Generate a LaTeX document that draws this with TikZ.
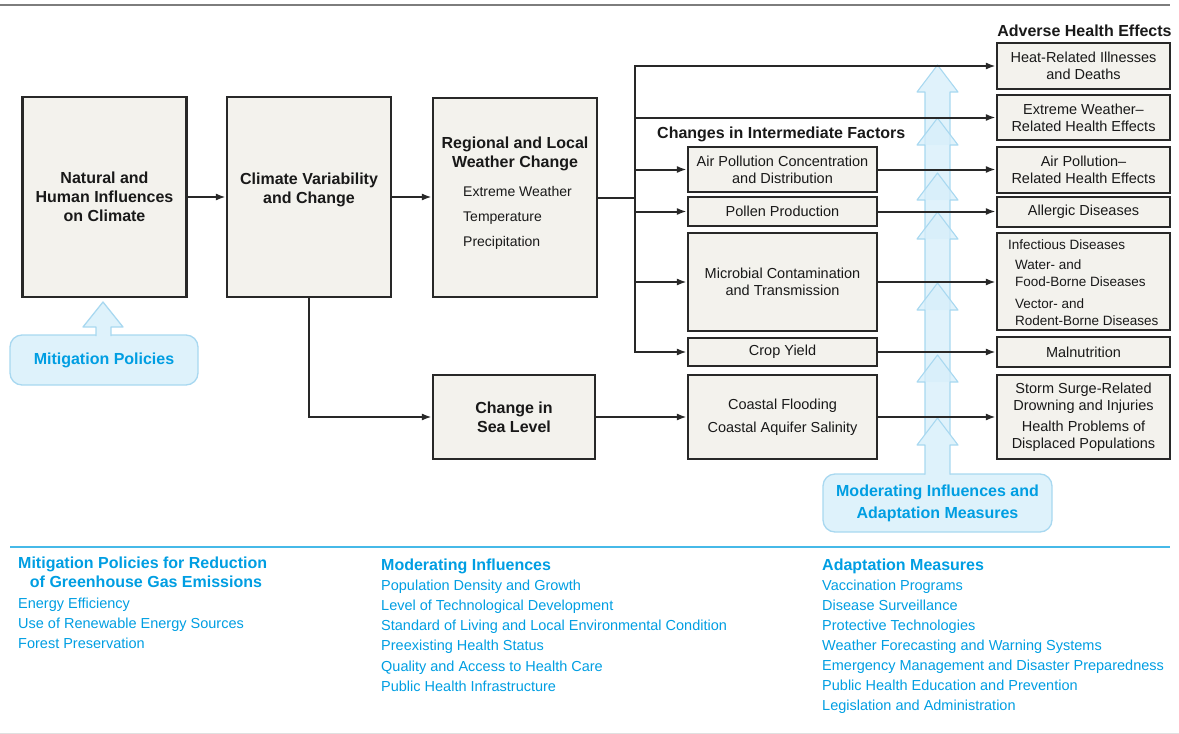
\documentclass[tikz,border=0pt]{standalone}
\usepackage{fontspec}
\setmainfont{Liberation Sans}
\usetikzlibrary{arrows.meta}
\definecolor{boxfill}{RGB}{243,242,237}
\definecolor{boxline}{RGB}{40,40,40}
\definecolor{boxtext}{RGB}{25,25,25}
\definecolor{bluetxt}{RGB}{0,158,226}
\definecolor{blueline}{RGB}{70,185,232}
\definecolor{bubfill}{RGB}{222,242,251}
\definecolor{bubline}{RGB}{168,216,240}
\definecolor{arrfill}{RGB}{214,238,250}
\definecolor{topline}{RGB}{125,125,125}
\begin{document}
\begin{tikzpicture}[x=1pt,y=-1pt,
  box/.style={draw=boxline,line width=2.2pt,fill=boxfill,inner sep=0pt,align=center,text=boxtext,font=\fontsize{14.5}{17}\selectfont},
  bbox/.style={box,font=\bfseries\fontsize{16}{19}\selectfont},
  plain/.style={inner sep=0pt,text=boxtext,font=\fontsize{14.5}{17}\selectfont},
  btitle/.style={inner sep=0pt,text=boxtext,align=center,font=\bfseries\fontsize{16}{19}\selectfont},
  conn/.style={draw=boxline,line width=2pt},
  arr/.style={conn,-{Latex[length=10pt,width=7pt]}},
  bubble/.style={draw=bubline,line width=1.3pt,fill=bubfill,rounded corners=12pt,text=bluetxt,align=center,font=\bfseries\fontsize{16}{22}\selectfont},
  bhead/.style={inner sep=0pt,text=bluetxt,font=\bfseries\fontsize{16}{19}\selectfont},
  bitem/.style={inner sep=0pt,text=bluetxt,font=\fontsize{14.5}{20}\selectfont}
]
\useasboundingbox (0,0) rectangle (1179,734);

% rules
\draw[topline,line width=2.5pt] (0,5) -- (1170,5);
\draw[blueline,line width=2pt] (10,547) -- (1170,547);
\draw[black!12,line width=1pt] (0,733) -- (1179,733);

% main boxes
\node[bbox,minimum width=164,minimum height=200] (n1) at (104.5,197) {Natural and\\Human Influences\\on Climate};
\node[box,minimum width=164,minimum height=200] (n2) at (309,197) {};
\node[btitle] (n2t) at (309,190) {Climate Variability\\and Change};
\node[box,minimum width=164,minimum height=199] (n3) at (515,197.5) {};
\node[btitle] (n3t) at (515,153.5) {Regional and Local\\Weather Change};
\node[plain,anchor=west,align=left,font=\fontsize{14}{25}\selectfont] (n3i) at (463,218) {Extreme Weather\\Temperature\\Precipitation};
\node[bbox,minimum width=162,minimum height=84] (sea) at (514,417) {Change in\\Sea Level};

% intermediate factors
\node[btitle,anchor=west] (ift) at (657,134) {Changes in Intermediate Factors};
\node[box,minimum width=189,minimum height=45] (air) at (782.5,169.5) {Air Pollution Concentration\\and Distribution};
\node[box,minimum width=189,minimum height=29] (pol) at (782.5,211.5) {Pollen Production};
\node[box,minimum width=189,minimum height=98] (mic) at (782.5,282) {Microbial Contamination\\and Transmission};
\node[box,minimum width=189,minimum height=28] (crop) at (782.5,352) {Crop Yield};
\node[box,minimum width=189,minimum height=84] (coast) at (782.5,417) {Coastal Flooding\\[6pt]Coastal Aquifer Salinity};

% adverse health effects
\node[btitle] (aht) at (1084.5,31) {Adverse Health Effects};
\node[box,minimum width=173,minimum height=46] (heat) at (1083.5,66) {Heat-Related Illnesses\\and Deaths};
\node[box,minimum width=173,minimum height=45] (ext) at (1083.5,117.5) {Extreme Weather–\\Related Health Effects};
\node[box,minimum width=173,minimum height=46] (airh) at (1083.5,170) {Air Pollution–\\Related Health Effects};
\node[box,minimum width=173,minimum height=30] (alg) at (1083.5,212) {Allergic Diseases};
\node[box,minimum width=173,minimum height=97] (inf) at (1083.5,281.5) {};
\node[plain,anchor=west,font=\fontsize{13.5}{17}\selectfont] (inft) at (1008,245) {Infectious Diseases};
\node[plain,anchor=west,align=left,font=\fontsize{13.5}{17}\selectfont] (inf1) at (1015,273.5) {Water- and\\Food-Borne Diseases};
\node[plain,anchor=west,align=left,font=\fontsize{13.5}{17}\selectfont] (inf2) at (1015,312) {Vector- and\\Rodent-Borne Diseases};
\node[box,minimum width=173,minimum height=30] (mal) at (1083.5,352) {Malnutrition};
\node[box,minimum width=173,minimum height=84] (storm) at (1083.5,417) {Storm Surge-Related\\Drowning and Injuries\\[4pt]Health Problems of\\Displaced Populations};

% mitigation bubble and arrow
\node[bubble,minimum width=188,minimum height=50] (mit) at (104,360) {Mitigation Policies};
\fill[bubfill] (103,302) -- (123,327) -- (111,327) -- (111,336.5) -- (96,336.5) -- (96,327) -- (83,327) -- cycle;
\draw[bubline,line width=1.3pt,line join=round] (96,336) -- (96,327) -- (83,327) -- (103,302) -- (123,327) -- (111,327) -- (111,336);

% moderating bubble and stacked arrows
\node[bubble,minimum width=229,minimum height=58] (mod) at (937.5,503) {Moderating Influences and\\Adaptation Measures};
\foreach \t/\b in {65/145,118/200,173/239,212/310,283/382,355/445}{
  \fill[arrfill,fill opacity=.75] (937.5,\t) -- (958,{\t+27}) -- (950,{\t+27}) -- (950,\b) -- (925,\b) -- (925,{\t+27}) -- (917,{\t+27}) -- cycle;
  \draw[bubline,line width=1.1pt,line join=round] (925,\b) -- (925,{\t+27}) -- (917,{\t+27}) -- (937.5,\t) -- (958,{\t+27}) -- (950,{\t+27}) -- (950,\b);
}
\fill[bubfill] (937.5,418) -- (958,445) -- (950,445) -- (950,475.5) -- (925,475.5) -- (925,445) -- (917,445) -- cycle;
\draw[bubline,line width=1.1pt,line join=round] (925,474.5) -- (925,445) -- (917,445) -- (937.5,418) -- (958,445) -- (950,445) -- (950,474.5);

% connectors
\coordinate (tj) at (635,197.5);
\coordinate (tt) at (635,66);
\coordinate (tb) at (635,352);
\draw[arr] (n1.east) -- (n2.west);
\draw[arr] (n2.east) -- (n2.east -| n3.west);
\draw[conn] (n3.east) -- (tj);
\draw[conn,line cap=rect] (tt) -- (tb);
\draw[arr] (tt) -- (heat.west);
\draw[arr] (tt |- ext.west) -- (ext.west);
\draw[arr] (tt |- air.west) -- (air.west);
\draw[arr] (tt |- pol.west) -- (pol.west);
\draw[arr] (tt |- mic.west) -- (mic.west);
\draw[arr] (tb) -- (crop.west);
\draw[arr] (n2.south) |- (sea.west);
\draw[arr] (sea.east) -- (coast.west);
\draw[arr] (air.east) -- (air.east -| airh.west);
\draw[arr] (pol.east) -- (pol.east -| alg.west);
\draw[arr] (mic.east) -- (mic.east -| inf.west);
\draw[arr] (crop.east) -- (mal.west);
\draw[arr] (coast.east) -- (storm.west);

% bottom legend
\node[bhead,anchor=base west] (mh1) at (18,568) {Mitigation Policies for Reduction};
\node[bhead,anchor=base] (mh2) at (146,587) {of Greenhouse Gas Emissions};
\foreach \s [count=\i] in {Energy Efficiency,Use of Renewable Energy Sources,Forest Preservation}
  \node[bitem,anchor=base west] (mi\i) at (18,{588+20*\i}) {\s};
\node[bhead,anchor=base west] (oh) at (381,570) {Moderating Influences};
\foreach \s [count=\i] in {Population Density and Growth,Level of Technological Development,Standard of Living and Local Environmental Condition,Preexisting Health Status,Quality and Access to Health Care,Public Health Infrastructure}
  \node[bitem,anchor=base west] (oi\i) at (381,{569.7+20.3*\i}) {\s};
\node[bhead,anchor=base west] (ah) at (822,570) {Adaptation Measures};
\foreach \s [count=\i] in {Vaccination Programs,Disease Surveillance,Protective Technologies,Weather Forecasting and Warning Systems,Emergency Management and Disaster Preparedness,Public Health Education and Prevention,Legislation and Administration}
  \node[bitem,anchor=base west] (ai\i) at (822,{569.9+20.1*\i}) {\s};
\end{tikzpicture}
\end{document}
